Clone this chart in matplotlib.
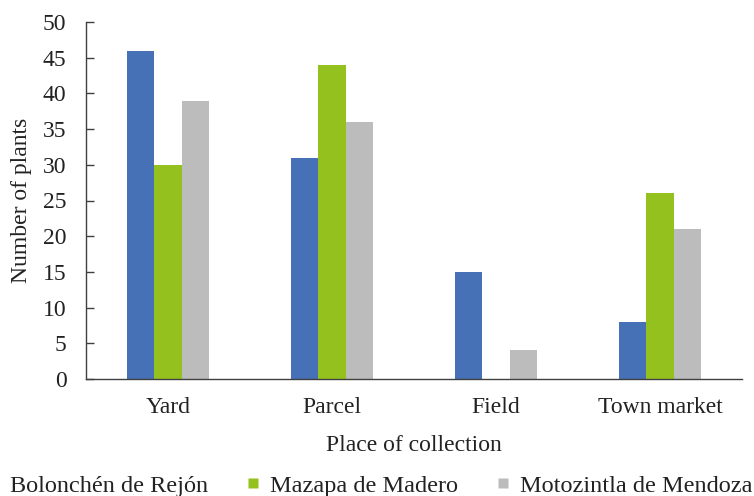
import matplotlib
matplotlib.use("Agg")
import matplotlib.pyplot as plt
from matplotlib.lines import Line2D
import numpy as np

plt.rcParams['font.family'] = ['Liberation Serif', 'DejaVu Serif']

places = ["Yard", "Parcel", "Field", "Town market"]
series_names = ["Bolonchén de Rejón", "Mazapa de Madero", "Motozintla de Mendoza"]
bolonchen = [46, 31, 15, 8]
mazapa = [30, 44, 0, 26]
motozintla = [39, 36, 4, 21]
y_ticks = [0, 5, 10, 15, 20, 25, 30, 35, 40, 45, 50]

colors = ["#4771B6", "#95C11F", "#BCBCBC"]
values = [bolonchen, mazapa, motozintla]

fig = plt.figure(figsize=(7.54, 4.96), dpi=100)
ax = fig.add_axes([86/754, 1 - 379/496, (742 - 86)/754, (379 - 22)/496])

x = np.arange(len(places)) + 0.5
w = 0.165
for i, (vals, c) in enumerate(zip(values, colors)):
    ax.bar(x + (i - 1) * w, vals, width=w, color=c, edgecolor='none')

ax.set_xlim(0, len(places))
ax.set_ylim(0, 50)
ax.set_yticks(y_ticks)
ax.set_xticks(x)
ax.set_xticklabels(places)
for s in ["top", "right"]:
    ax.spines[s].set_visible(False)
for s in ["left", "bottom"]:
    ax.spines[s].set_color("#404040")
    ax.spines[s].set_linewidth(1.0)
ax.tick_params(axis='y', direction='in', length=6, width=1, color="#404040",
               pad=14, labelsize=17, labelcolor="#222222")
ax.tick_params(axis='x', length=0, pad=13, labelsize=17, labelcolor="#222222")

ax.set_xlabel("Place of collection", fontsize=17, color="#222222", labelpad=12)
ax.set_ylabel("Number of plants", fontsize=17, color="#222222", labelpad=8)

handles = [Line2D([], [], marker='s', linestyle='none', markersize=6.5,
                  markerfacecolor=c, markeredgecolor='none') for c in colors]
fig.legend(handles, series_names, loc='center left', ncol=3,
           bbox_to_anchor=(-13/754, 1 - 485.5/496), frameon=False,
           fontsize=17.5, handlelength=0.5, handletextpad=0.45,
           columnspacing=1.6, borderpad=0, borderaxespad=0,
           labelcolor="#222222")

fig.savefig("out.png", dpi=100)
